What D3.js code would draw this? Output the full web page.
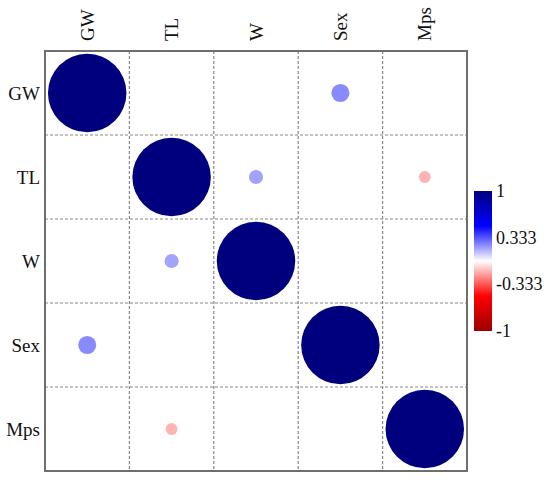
<!DOCTYPE html>
<html><head><meta charset="utf-8">
<script src="https://cdn.jsdelivr.net/npm/d3@7"></script>
<style>body{margin:0;background:#fff}svg{display:block}</style>
</head><body>
<svg id="c" width="550" height="484"></svg>
<script>
const variables = ["GW", "TL", "W", "Sex", "Mps"];
const corrGW  = [1.00, 0.00, 0.00, 0.23, 0.00];
const corrTL  = [0.00, 1.00, 0.18, 0.00, -0.15];
const corrW   = [0.00, 0.18, 1.00, 0.00, 0.00];
const corrSex = [0.23, 0.00, 0.00, 1.00, 0.00];
const corrMps = [0.00, -0.15, 0.00, 0.00, 1.00];
const legendTicks = [1, 0.333, -0.333, -1];
const paletteStops = [-1, -0.5, 0, 0.5, 1];
const paletteColors = ["#9b0000", "#ff0000", "#ffffff", "#0000ff", "#00007f"];

const matrix = [corrGW, corrTL, corrW, corrSex, corrMps];
const cells = [];
matrix.forEach((row, i) => row.forEach((v, j) => cells.push({row: variables[i], col: variables[j], v})));

const svg = d3.select("#c");
const pL = 45, pT = 51, pR = 467, pB = 471;
const x = d3.scaleBand().domain(variables).range([pL, pR]);
const y = d3.scaleBand().domain(variables).range([pT, pB]);
const color = d3.scaleLinear().domain(paletteStops).range(paletteColors);
const rad = d3.scaleLinear().domain([0, 1]).range([0, x.bandwidth() * 0.465]);
const font = "'Liberation Serif','Times New Roman',serif";

// grid
const g = svg.append("g");
variables.slice(1).forEach(v => {
  g.append("line").attr("x1", x(v)).attr("x2", x(v)).attr("y1", pT).attr("y2", pB)
    .attr("stroke", "#888").attr("stroke-width", 1.2).attr("stroke-dasharray", "3,2");
  g.append("line").attr("y1", y(v)).attr("y2", y(v)).attr("x1", pL).attr("x2", pR)
    .attr("stroke", "#888").attr("stroke-width", 1.2).attr("stroke-dasharray", "3,2");
});

// circles
svg.append("g").selectAll("circle")
  .data(cells.filter(d => Math.abs(d.v) > 0.01))
  .join("circle")
  .attr("cx", d => x(d.col) + x.bandwidth() / 2)
  .attr("cy", d => y(d.row) + y.bandwidth() / 2)
  .attr("r", d => rad(Math.abs(d.v)))
  .attr("fill", d => color(d.v));

// border
svg.append("rect").attr("x", pL).attr("y", pT).attr("width", pR - pL).attr("height", pB - pT)
  .attr("fill", "none").attr("stroke", "#6e6e6e").attr("stroke-width", 2);

// labels
svg.append("g").selectAll("text").data(variables).join("text")
  .attr("x", 40).attr("y", d => y(d) + y.bandwidth() / 2)
  .attr("text-anchor", "end").attr("dominant-baseline", "central")
  .attr("font-family", font).attr("font-size", 19).attr("fill", "#111").text(d => d);

svg.append("g").selectAll("text").data(variables).join("text")
  .attr("transform", d => `translate(${x(d) + x.bandwidth() / 2},41) rotate(-90)`)
  .attr("text-anchor", "start").attr("dominant-baseline", "central")
  .attr("font-family", font).attr("font-size", 19).attr("fill", "#111").text(d => d);

// legend
const lx = 474, lw = 18, ly0 = 191, ly1 = 331;
const ly = d3.scaleLinear().domain([1, -1]).range([ly0, ly1]);
const defs = svg.append("defs");
const grad = defs.append("linearGradient").attr("id", "lg").attr("x1", 0).attr("x2", 0).attr("y1", 0).attr("y2", 1);
d3.range(0, 1.0001, 0.05).forEach(t => {
  grad.append("stop").attr("offset", t).attr("stop-color", color(1 - 2 * t));
});
svg.append("rect").attr("x", lx).attr("y", ly0).attr("width", lw).attr("height", ly1 - ly0).attr("fill", "url(#lg)");
svg.append("g").selectAll("text").data(legendTicks).join("text")
  .attr("x", 496).attr("y", d => ly(d))
  .attr("dominant-baseline", "central")
  .attr("font-family", font).attr("font-size", 18).attr("fill", "#111").text(d => d);
</script>
</body></html>
